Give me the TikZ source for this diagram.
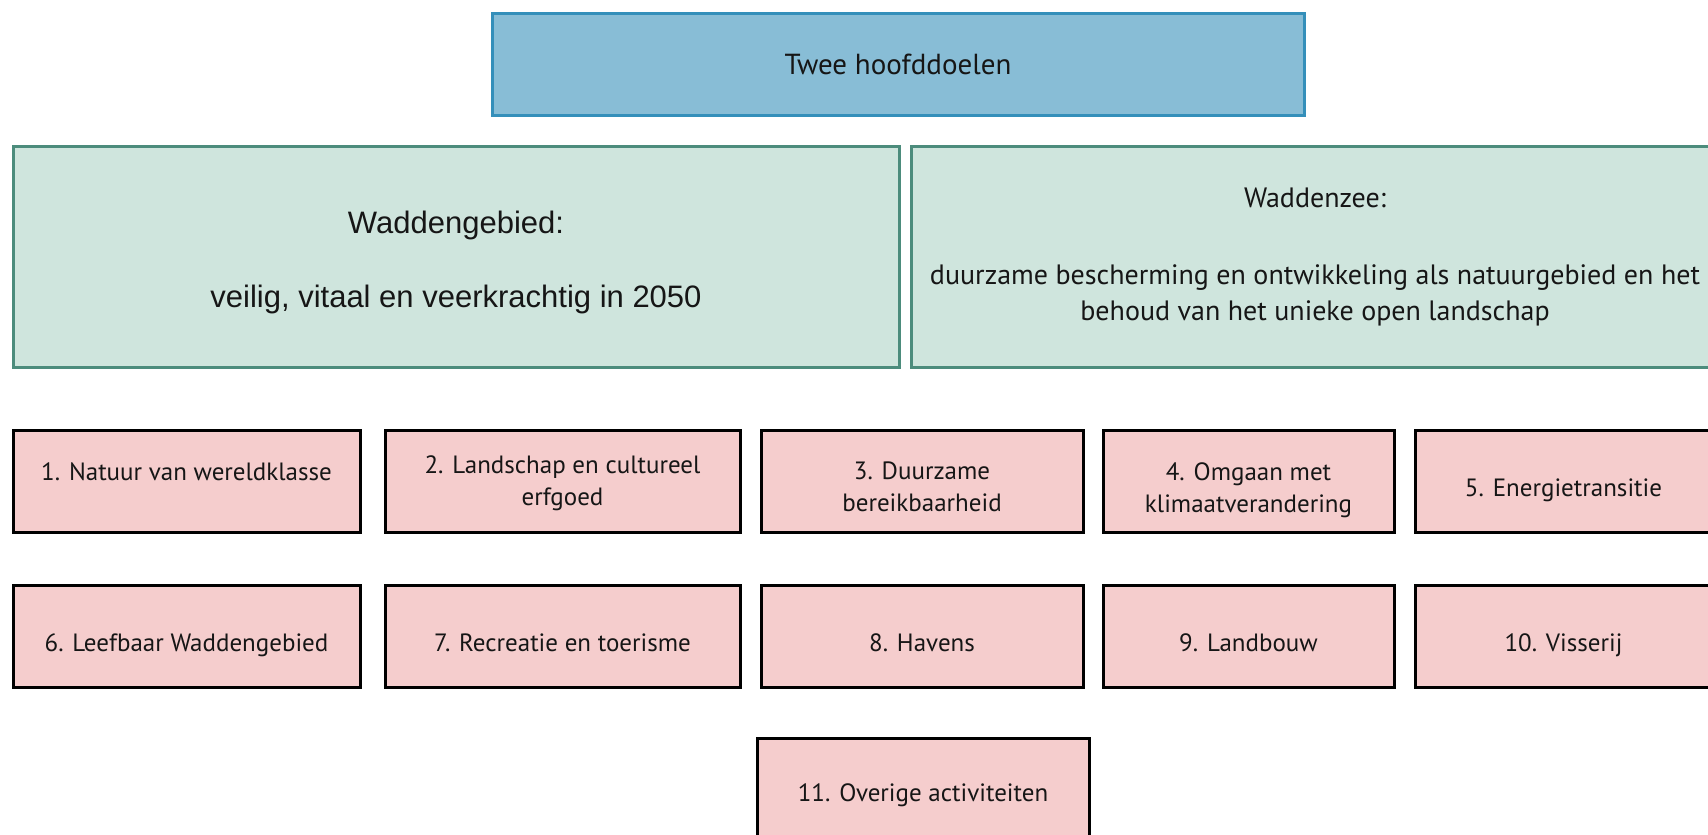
\documentclass[tikz,border=0pt]{standalone}
\usepackage{fontspec}
\setmainfont{PT Sans}
\newfontfamily\arialfont{Liberation Sans}
\definecolor{hoofdblauw}{RGB}{136,189,214}
\definecolor{hoofdrand}{RGB}{52,143,186}
\definecolor{doelgroen}{RGB}{207,229,221}
\definecolor{doelrand}{RGB}{76,140,124}
\definecolor{themaroze}{RGB}{245,205,205}
\definecolor{inkt}{RGB}{22,22,22}
\newcommand{\hoog}[1]{\rule{0pt}{#1}}
\tikzstyle{hoofd}=[rectangle, draw=hoofdrand, fill=hoofdblauw, line width=1.5pt, inner sep=0pt, text=inkt, font=\fontsize{14.5}{17}\selectfont]
\tikzstyle{doel}=[rectangle, draw=doelrand, fill=doelgroen, line width=1.5pt, inner sep=0pt, minimum height=110.5pt, align=center, text=inkt]
\tikzstyle{themabox}=[rectangle, draw=black, fill=themaroze, line width=1.5pt, inner sep=0pt, minimum height=51pt, text=inkt, font=\fontsize{12.5}{16}\selectfont]
\tikzstyle{thema}=[themabox, text height=15pt, text depth=0pt]
\tikzstyle{thema2}=[themabox, align=center, text depth=-6pt]

\begin{document}
\begin{tikzpicture}[x=0.5pt, y=-0.5pt]
  \useasboundingbox (0,0) rectangle (1708,835);
  \clip (0,0) rectangle (1708,835);
  % hoofddoelen
  \node[hoofd, minimum width=406pt, minimum height=51pt] (hoofddoelen) at (898,64) {Twee hoofddoelen};
  \node[doel, minimum width=443pt, font=\arialfont\fontsize{15.5}{18}\selectfont] (gebied) at (456,256.5)
    {\hoog{17.5pt}Waddengebied:\\[19pt]veilig, vitaal en veerkrachtig in 2050};
  \node[doel, minimum width=404pt, font=\fontsize{14}{18}\selectfont] (zee) at (1315,256.5)
    {Waddenzee:\\[20.5pt]duurzame bescherming en ontwikkeling als natuurgebied en het\\behoud van het unieke open landschap};
  % thema's, eerste rij
  \node[thema, minimum width=173.5pt, text height=4pt, text depth=5pt] (natuur) at (186.5,481) {1. Natuur van wereldklasse};
  \node[thema2, minimum width=177.5pt] (landschap) at (562.5,481) {2. Landschap en cultureel\\erfgoed};
  \node[thema2, minimum width=161pt] (bereik) at (922,481) {\hoog{14pt}3. Duurzame\\bereikbaarheid};
  \node[thema2, minimum width=145.5pt] (klimaat) at (1248.5,481) {\hoog{15pt}4. Omgaan met\\klimaatverandering};
  \node[thema, minimum width=148.5pt] (energie) at (1563.5,481) {5. Energietransitie};
  % tweede rij
  \node[thema, minimum width=173.5pt] (leefbaar) at (186.5,636) {6. Leefbaar Waddengebied};
  \node[thema, minimum width=177.5pt] (recreatie) at (562.5,636) {7. Recreatie en toerisme};
  \node[thema, minimum width=161pt] (havens) at (922,636) {8. Havens};
  \node[thema, minimum width=145.5pt] (landbouw) at (1248.5,636) {9. Landbouw};
  \node[thema, minimum width=148.5pt] (visserij) at (1563.5,636) {10. Visserij};
  % overig
  \node[thema, minimum width=166pt, text height=12pt] (overig) at (923,789.5) {11. Overige activiteiten};
\end{tikzpicture}
\end{document}
